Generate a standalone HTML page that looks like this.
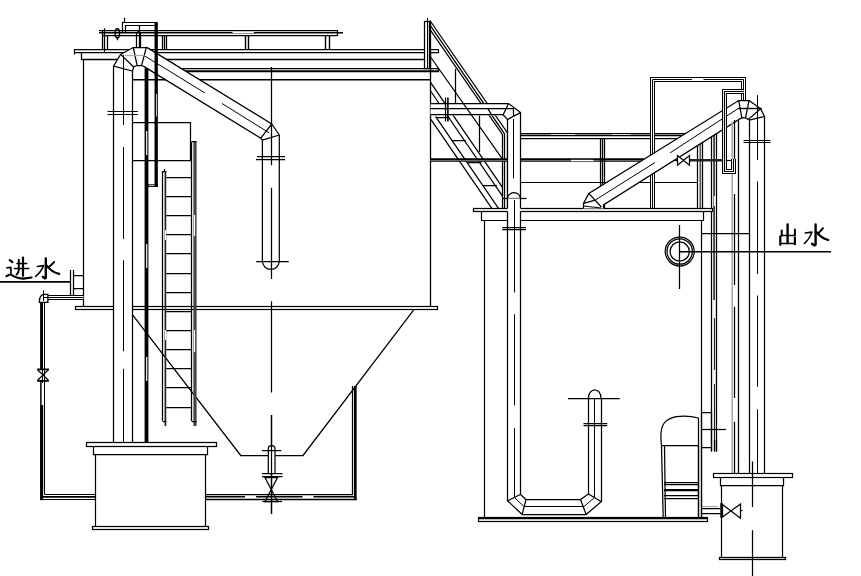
<!DOCTYPE html>
<html><head><meta charset="utf-8"><title>diagram</title>
<style>
html,body{margin:0;padding:0;background:#fff;font-family:"Liberation Sans",sans-serif;}
svg{display:block}
</style></head>
<body>
<svg width="861" height="576" viewBox="0 0 861 576">
<rect width="861" height="576" fill="#fff"/>
<g fill="none" stroke="#000" stroke-width="1.25" stroke-linecap="butt" stroke-linejoin="miter">
<!-- left tank structure -->
<path d="M74.50 54.50L74.50 49.50L438.50 49.50L438.50 52.50L74.30 52.50"/>
<path d="M81.50 52.50L81.50 59.50L423.80 59.50" stroke-width="1.3"/>
<path d="M83.50 59.90L83.50 306.30"/>
<path d="M160.00 68.50L438.50 68.50L438.50 71.50L160.00 71.50"/>
<path d="M160 70.9H438" stroke-width="1.5"/>
<path d="M130 79.7H430.2" stroke-width="1.6"/>
<path d="M430.50 53.00L430.50 306.30" stroke-width="1.3"/>
<rect x="75.5" y="306.5" width="362.0" height="3.0" stroke-width="1.2"/>
<path d="M128.75 309.80L240.75 455.50L303.00 455.50L413.75 309.80"/>
<rect x="424.5" y="21.5" width="6.0" height="47.0" fill="#fff"/>
<path d="M427.50 17.80L427.50 68.50" stroke-width="1"/>
<path d="M429.6 21V68.5" stroke-width="1.6"/>
<path d="M99.00 30.50L337.50 30.50L337.50 35.90"/>
<path d="M99 32.8H343" stroke-width="1.5"/>
<path d="M102.50 35.50L337.50 35.50"/>
<path d="M232.50 32.50L253.80 32.50" stroke="#fff" stroke-width="1.3"/>
<path d="M102.50 30.60L102.50 49.40M104.50 28.30L104.50 51.80M107.50 35.90L107.50 49.40"/>
<path d="M162.50 35.90L162.50 49.40M164.50 35.90L164.50 49.40M166.50 35.90L166.50 49.40"/>
<path d="M245.50 35.90L245.50 49.40M248.50 35.90L248.50 49.40M325.50 35.90L325.50 49.40M329.50 35.90L329.50 49.40" stroke-width="1.4"/>
<ellipse cx="117.3" cy="33.3" rx="2.2" ry="4.6" stroke-width="1.5"/>
<path d="M117.50 37.00L117.50 40.30M124.50 17.80L124.50 22.50"/>
<path d="M122.50 32.00L122.50 22.50L157.70 22.50M125.50 32.00L125.50 25.50L154.60 25.50" stroke-width="1.2"/>
<path d="M136.50 47.10L136.50 33.50L138.80 30.80L140.50 33.50L140.50 47.10M139.50 25.20L139.50 55.00"/>
<!-- diagonal pipe left -->
<path d="M146.40 47.10L271.80 124.00L279.50 135.00L279.50 150.50L262.50 150.50L262.50 140.20L260.80 138.20L143.30 66.10Z" fill="#fff" stroke="none"/>
<path d="M146.40 47.10L271.80 124.00L279.30 135.00M143.30 66.10L260.80 138.20L262.40 140.20"/>
<path d="M271.80 124.00L260.80 138.20M262.40 140.20L279.30 135.00"/>
<path d="M144.30 55.70L205.00 93.00M222.00 103.50L269.20 132.90" stroke-width="1"/>
<path d="M262.4 140.2V261A8.45 8.45 0 0 0 279.3 261V135"/>
<path d="M256.20 261.50L288.80 261.50M257.00 156.50L285.00 156.50M256.00 159.50L285.00 159.50"/>
<path d="M271.50 67.00L271.50 165.30M271.50 187.80L271.50 279.00M271.50 301.30L271.50 392.50M271.50 415.00L271.50 513.80"/>
<!-- riser -->
<path d="M113.50 442.50L113.50 66.20L120.60 54.40L133.20 47.50L146.40 47.50L143.30 66.10L141.80 65.50L136.50 65.50L133.70 67.00L132.50 71.00L132.50 442.50Z" fill="#fff" stroke="none"/>
<path d="M113.50 442.50L113.50 66.20L120.60 54.40L133.20 47.50L146.40 47.50"/>
<path d="M132.50 442.50L132.50 71.00L133.70 67.00L136.50 65.50L141.80 65.50L143.30 66.10"/>
<path d="M113.75 66.20L132.00 71.00M120.60 54.40L133.70 67.00M133.20 47.10L137.10 65.30M146.40 47.10L141.60 65.30"/>
<path d="M125.00 55.50L144.30 55.50" stroke="#aaa"/>
<path d="M123.50 55.00L123.50 125.00M123.50 147.00L123.50 239.00M123.50 260.30L123.50 351.30M123.50 368.80L123.50 442.50" stroke-width="1"/>
<path d="M107.50 111.50L137.90 111.50M107.50 114.50L137.90 114.50" stroke-width="1.2"/>
<path d="M132.00 122.50L190.50 122.50L190.50 160.50L132.00 160.50"/>
<path d="M156.2 22.5V187" stroke-width="3.3"/>
<path d="M156.50 94.00L156.50 116.50" stroke="#fff" stroke-width="0.8"/>
<path d="M157.7 185.6H147.5" stroke-width="2.6"/>
<path d="M149.00 185.50L154.50 185.50" stroke="#fff" stroke-width="0.7"/>
<path d="M146.5 68.2V442.5" stroke-width="3.8"/>
<path d="M146.7 131V442" stroke="#fff" stroke-width="1.2" stroke-dasharray="24 89"/>
<!-- ladder -->
<path d="M162.50 171.00L162.50 421.30M164.50 169.00L164.50 171.00"/>
<path d="M165.4 171V426" stroke-width="1.7" stroke="#222"/>
<path d="M165.50 230.00L165.50 240.00M165.50 330.00L165.50 340.00" stroke="#fff" stroke-width="1.2"/>
<path d="M191.50 141.80L191.50 421.30"/>
<path d="M195 141.8V426" stroke-width="3.2" stroke="#444"/>
<path d="M194.50 215.00L194.50 236.00M194.50 330.00L194.50 352.00" stroke="#fff" stroke-width="1.2"/>
<path d="M162.90 171.50L166.30 171.50M191.80 141.50L196.60 141.50M162.90 421.50L166.30 421.50M191.80 421.50L196.60 421.50"/>
<path d="M166.30 177.50L191.80 177.50M166.30 196.50L191.80 196.50M166.30 215.50L191.80 215.50M166.30 234.50L191.80 234.50M166.30 253.50L191.80 253.50M166.30 273.50L191.80 273.50M166.30 292.50L191.80 292.50M166.30 311.50L191.80 311.50M166.30 330.50L191.80 330.50M166.30 349.50L191.80 349.50M166.30 368.50L191.80 368.50M166.30 387.50L191.80 387.50M166.30 407.50L191.80 407.50"/>
<!-- small left tank -->
<rect x="86.5" y="442.5" width="130.0" height="4.0" fill="#fff"/>
<path d="M93.50 446.30L93.50 454.50L207.50 454.50L207.50 446.30"/>
<path d="M95.50 454.50L95.50 526.50M205.50 454.50L205.50 526.50" stroke-width="1.2"/>
<rect x="92.5" y="526.5" width="116.0" height="3.0"/>
<!-- inlet -->
<path d="M0 281.8H70.8" stroke-width="1.7"/>
<path d="M70.50 270.00L70.50 295.00M73.50 270.00L73.50 295.00M73.30 275.50L83.50 275.50M73.30 288.50L83.50 288.50"/>
<path d="M83.50 297.50L46.00 297.50" stroke="#000" stroke-width="5" class="force-snap"/><path d="M83.50 297.50L46.00 297.50" stroke="#fff" stroke-width="3" class="force-snap"/><path d="M83.50 297.50L46.00 297.50" stroke="#000" stroke-width="1" class="force-snap"/>
<path d="M44.50 405.00L44.50 494.50L95.50 494.50" stroke-width="1"/>
<path d="M42 496.9H95.5" stroke-width="1.6"/>
<path d="M40.00 499.50L95.50 499.50" stroke-width="1.2"/>
<path d="M41.55 301V369" stroke-width="2.9"/>
<path d="M44.50 301.00L44.50 405.00" stroke-width="1"/>
<path d="M40.9 381V405" stroke-width="1.5"/>
<path d="M41.6 405V500.2" stroke-width="3.1"/>
<path d="M47.9 294.4H43.5Q39.3 295.5 39.3 302.3H47.9Z" fill="#fff" stroke-width="1.3"/>
<path d="M43.50 290.50L43.50 301.00M43.00 297.50L47.90 297.50" stroke-width="1"/>
<path d="M37.1 369.3H48.9M37.1 380.8H48.9" stroke-width="1.8"/>
<path d="M37.60 369.80L48.40 380.30M48.40 369.80L37.60 380.30" stroke-width="1.2"/>
<path d="M42.50 369.00L42.50 383.00" stroke-width="1"/>
<!-- drain -->
<path d="M205.80 494.50L352.50 494.50L352.50 386.00"/>
<path d="M205.8 499.4H356.7" stroke-width="1.5"/>
<path d="M355.3 500.1V386" stroke-width="2.7"/>
<path d="M205.8 496.8H354" stroke-width="1.6" stroke-dasharray="46.5 11" stroke-dashoffset="7.3"/>
<path d="M268.3 473V448.9A3.35 3.35 0 0 1 275 448.9V473" fill="#fff"/>
<path d="M262.00 450.50L281.30 450.50M262.00 473.50L282.50 473.50M262.00 476.50L282.50 476.50"/>
<path d="M265.00 477.50L277.50 477.50L265.00 501.50L277.50 501.50Z" fill="none"/>
<path d="M262.50 501.50L282.00 501.50"/>
<path d="M271.50 415.00L271.50 513.80"/>
<!-- stairs -->
<path d="M429.90 20.50L507.50 133.00L507.50 208.30M429.90 24.90L504.50 133.80L504.50 208.30M429.90 29.30L502.50 134.60L502.50 208.30"/>
<path d="M430.20 118.30L491.80 208.30M435.50 116.30L498.50 208.30M430.20 90.50L502.30 195.80M430.20 81.80L502.30 187.10"/>
<path d="M436.50 117.50L449.50 117.50M451.80 140.50L465.90 140.50M467.30 162.50L481.40 162.50M482.80 185.50L496.90 185.50"/>
<path d="M455.50 68.70L455.50 103.20M479.50 115.00L479.50 152.00"/>
<path d="M430.2 160H646" stroke-width="3.6"/>
<path d="M430.20 160.50L646.00 160.50" stroke="#777" stroke-width="0.9"/>
<path d="M571.00 160.50L593.50 160.50" stroke="#fff" stroke-width="1.4"/>
<path d="M430.50 103.50L508.60 103.50L520.50 112.60L520.50 200.50L507.50 200.50L507.50 119.60L503.00 115.50L430.50 115.50Z" fill="#fff" stroke="none"/>
<path d="M430.20 103.50L508.60 103.50L520.50 112.60L520.50 198.50M430.20 114.50L503.00 114.50L507.50 119.60L507.50 198.50M430.20 108.50L513.80 108.50"/>
<path d="M508.60 103.20L503.00 115.20M507.50 119.60L520.40 112.60M513.50 108.40L513.50 116.00"/>
<path d="M513.50 119.00L513.50 178.40" stroke-width="1"/>
<path d="M445.50 97.50L445.50 121.50"/><path d="M447.9 97.5V121.5" stroke-width="1.6"/>
<path d="M430.20 56.50L501.80 158.10"/>
<path d="M488.00 108.80L491.80 115.00"/>
<path d="M502.30 198.50L526.50 198.50"/>
<path d="M507.5 198.5A6.45 5.8 0 0 1 520.4 198.5" />
<!-- right tank -->
<path d="M520.40 182.50L697.80 182.50" stroke-width="1.2"/>
<path d="M520.40 133.50L686.00 133.50M520.40 138.50L686.00 138.50"/><path d="M520.40 135.50L686.00 135.50" stroke-width="1.3"/>
<path d="M551.00 134.50L575.00 134.50M612.00 134.50L630.00 134.50" stroke="#fff" stroke-width="0.8"/>
<path d="M600.50 138.10L600.50 208.30M602.50 138.10L602.50 208.30M604.50 138.10L604.50 208.30"/>
<path d="M697.50 134.00L697.50 208.30M702.50 134.00L702.50 208.30"/><path d="M700.3 134V208.3" stroke="#555" stroke-width="1.6"/>
<path d="M652.50 208.30L652.50 79.50L743.50 79.50L743.50 100.30" stroke="#000" stroke-width="5" class="force-snap"/><path d="M652.50 208.30L652.50 79.50L743.50 79.50L743.50 100.30" stroke="#fff" stroke-width="3" class="force-snap"/><path d="M652.50 208.30L652.50 79.50L743.50 79.50L743.50 100.30" stroke="#000" stroke-width="1" class="force-snap"/>
<path d="M692 79.2H703.5" stroke="#fff" stroke-width="2.2"/>
<path d="M711.50 125.00L711.50 451.50M716.50 125.00L716.50 451.50"/>
<path d="M714.1 125V300" stroke="#333" stroke-width="1.7"/>
<path d="M714.50 300.00L714.50 451.50" stroke="#222" stroke-width="1.2"/>
<path d="M714.50 196.00L714.50 206.00M714.50 300.00L714.50 318.00M714.50 370.00L714.50 384.00" stroke="#fff" stroke-width="1.3"/>
<path d="M689.7 160.2H723" stroke-width="2.6" stroke="#222"/>
<path d="M723.00 160.50L734.30 160.50" stroke-width="1.2"/>
<rect x="473.5" y="208.5" width="239.0" height="3.0" fill="#fff"/>
<path d="M481.50 211.40L481.50 220.50L703.50 220.50L703.50 211.40" stroke-width="1.2"/>
<path d="M484.50 220.80L484.50 517.80M701.50 220.80L701.50 518.00" stroke-width="1.2"/>
<rect x="478.5" y="517.5" width="229.0" height="4.0" stroke-width="1.2"/>
<path d="M478.5 518.3H707.3" stroke-width="1.8"/>
<path d="M507.50 198.50L520.50 198.50L520.50 494.50L507.50 500.80Z" fill="#fff" stroke="none"/>
<path d="M507.50 211.40L507.50 500.80L522.30 514.50L586.00 514.50L601.50 501.50L601.50 398.00M520.50 211.40L520.50 494.50L526.00 499.50L580.50 499.50L588.50 494.00L588.50 398.00"/>
<path d="M507.50 198.50L507.50 208.30M520.50 198.50L520.50 208.30"/>
<path d="M507.60 500.80L520.30 494.50M522.30 514.00L526.00 499.50M580.50 499.50L586.00 514.00M588.50 494.00L601.00 501.50"/>
<path d="M514.50 200.00L514.50 292.50M514.50 314.30L514.50 405.50M514.50 428.00L514.50 497.50L524.00 506.50L584.00 506.50L594.50 497.50L594.50 398.00" stroke-width="1"/>
<path d="M502.30 227.50L526.00 227.50M502.30 229.50L526.00 229.50"/>
<path d="M588.5 398A6.25 8.2 0 0 1 601 398"/>
<path d="M568.00 398.50L619.80 398.50M583.50 423.50L607.30 423.50M583.50 425.50L607.30 425.50"/>
<circle cx="679.7" cy="251.5" r="14.5"/><circle cx="679.7" cy="251.5" r="12.7"/><circle cx="679.7" cy="251.5" r="9.6"/>
<path d="M679.50 225.00L679.50 289.00"/>
<!-- right diagonal pipe -->
<path d="M588.80 193.40L738.70 100.50L749.10 100.50L760.60 108.70L764.50 116.50L764.50 473.50L749.50 473.50L749.50 120.20L745.50 117.80L741.80 117.60L603.50 204.90L603.50 208.50L583.50 208.50L583.50 203.40Z" fill="#fff" stroke="none"/>
<path d="M583.50 208.10L583.50 203.40L588.80 193.40L738.70 100.50L749.10 100.50L760.60 108.70L764.50 116.50L764.50 473.30"/>
<path d="M603.50 208.10L603.50 204.90L741.80 117.60L745.50 117.80L749.50 120.20L749.50 473.30"/>
<path d="M588.80 193.40L601.40 207.00M583.60 203.40L595.10 200.20M583.60 206.00L601.00 208.00"/>
<path d="M595.10 200.20L655.00 162.50M670.20 152.80L737.60 108.90" stroke-width="1"/>
<path d="M738.70 100.30L741.80 117.60M749.10 100.30L745.50 117.80M760.60 108.70L748.10 119.60M764.80 116.50L749.20 120.20"/>
<path d="M737.60 108.50L761.70 108.50" stroke-width="1.4"/>
<path d="M757.50 95.10L757.50 160.00M757.50 181.50L757.50 274.00M757.50 295.50L757.50 386.80M757.50 409.30L757.50 473.30" stroke-width="1"/>
<path d="M743.50 140.50L770.50 140.50M743.50 142.50L770.50 142.50" stroke-width="1.2"/>
<path d="M677.50 155.50L677.50 165.30L689.50 155.50L689.50 165.30Z" fill="#fff"/>
<path d="M673.70 160.50L677.10 160.50"/>
<path d="M732.2 122V473.3" stroke="#aaa" stroke-width="1.6"/>
<path d="M734.50 120.00L734.50 173.00M734.50 194.00L734.50 285.00M734.50 306.80L734.50 398.00M734.50 421.80L734.50 473.30"/>
<path d="M738.50 120.00L738.50 473.30"/>
<path d="M701.70 233.50L749.30 233.50"/>
<path d="M679.7 251.8H831" stroke-width="1.6"/>
<path d="M743.70 91.50L724.50 91.50L724.50 171.50L733.50 171.50L733.50 159.00" stroke="#000" stroke-width="5" class="force-snap"/><path d="M743.70 91.50L724.50 91.50L724.50 171.50L733.50 171.50L733.50 159.00" stroke="#fff" stroke-width="3" class="force-snap"/><path d="M743.70 91.50L724.50 91.50L724.50 171.50L733.50 171.50L733.50 159.00" stroke="#000" stroke-width="1.2" class="force-snap"/>
<!-- small right tank -->
<rect x="713.5" y="473.5" width="79.0" height="4.0" fill="#fff" stroke-width="1.2"/>
<path d="M720.50 477.50L720.50 485.50L783.50 485.50L783.50 477.50" stroke="#000"/>
<path d="M721.50 485.30L721.50 557.00M782.50 485.30L782.50 557.00" stroke-width="1.2"/>
<rect x="719.5" y="557.5" width="66.0" height="2.0"/>
<path d="M752.50 461.50L752.50 507.00M752.50 530.30L752.50 576.00"/>
<path d="M701.50 508.50L720.50 508.50M701.50 513.50L720.50 513.50"/><path d="M701.50 506.50L718.00 506.50" stroke="#aaa"/>
<path d="M721.4 503V518" stroke-width="2.2"/>
<path d="M722.50 504.50L722.50 517.00L740.50 504.00L740.50 518.30Z" fill="#fff"/>
<path d="M740.50 510.50L742.50 510.50"/>
<!-- pump -->
<path d="M698.50 418.00L698.50 518.00M701.50 412.30L701.50 518.00"/>
<path d="M701.50 412.50L711.50 412.50L711.50 447.50L701.50 447.50"/>
<path d="M701.50 429.50L726.00 429.50"/>
<path d="M711.50 451.50L711.50 447.00M714.50 451.50L714.50 440.00M716.50 451.50L716.50 440.00"/>
<path d="M661.5 445.8C660.3 436 660.3 430 663 425C666 419 674 416 684 416C690 416 695 417 698.5 418"/>
<path d="M661.50 445.50L698.50 445.50"/>
<path d="M661.50 445.80L663.20 518.00M664.50 446.00L665.50 518.00M698.50 446.00L698.50 518.00"/>
<path d="M664.00 482.50L698.50 482.50M664.00 484.50L698.50 484.50M664.00 489.50L698.50 489.50M664.00 490.50L698.50 490.50M664.00 495.50L698.50 495.50M664.00 498.50L698.50 498.50"/>
<!-- text -->
<g stroke-linecap="round" stroke-linejoin="round">
<path d="M9.7 260.2L12.3 262" stroke-width="2.2"/>
<path d="M6.9 267.8L10.9 267.4V274.4" stroke-width="1.6"/>
<path d="M6.5 276.1Q9 274.6 11 274.5Q15.5 278 23.4 278.7L31.6 277.5" stroke-width="2.2"/>
<path d="M16.90 263.50L26.80 263.50M14.40 268.50L28.80 268.50" stroke-width="1.3"/>
<path d="M18.8 259.6V270Q18.6 273 16.6 274.6" stroke-width="1.9"/>
<path d="M23 257.5V275.8" stroke-width="2.2"/>
<path d="M45.8 258.4V277.5Q45.6 279.5 42.9 276.8" stroke-width="2.4"/>
<path d="M37.3 266.5L43.5 265.6Q41.5 271.7 35.7 276.4" stroke-width="1.6"/>
<path d="M54.2 262Q51 265.2 48.3 267.7" stroke-width="1.9"/>
<path d="M47.3 266Q51 271.8 59.2 273.9" stroke-width="2.2"/>
<path d="M787.6 224.4V243" stroke-width="2.4"/>
<path d="M781.7 230.6V235.5M794.9 229.4V235.5" stroke-width="2"/>
<path d="M781.00 235.50L795.00 235.50M780.20 243.50L795.00 243.50" stroke-width="1.4"/>
<path d="M780.3 236.6V244.8M794.9 237.6V244.2" stroke-width="2.2"/>
<path d="M815.6 224.4V244.4Q815.4 246.4 812.1 243.7" stroke-width="2.4"/>
<path d="M805.2 233L811.8 232.1Q810 238.5 804.5 243.3" stroke-width="1.6"/>
<path d="M823 228.1Q820.5 231 818.2 233.7" stroke-width="1.9"/>
<path d="M817 232.3Q820.5 237.6 828.3 240" stroke-width="2.2"/>
</g>
</g>
</svg>
</body></html>
